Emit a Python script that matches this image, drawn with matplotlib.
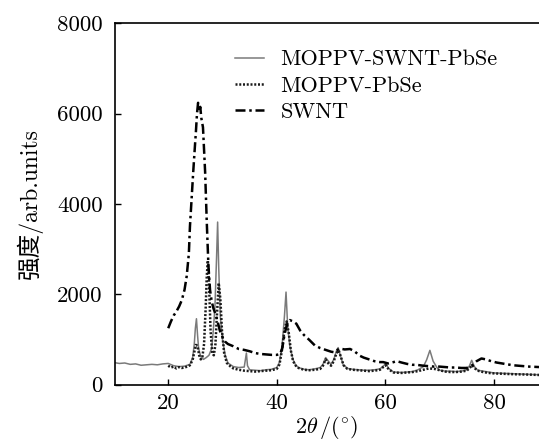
import matplotlib
matplotlib.use("Agg")
import matplotlib.pyplot as plt

# MOPPV-SWNT-PbSe (línea gris continua)
comp_x = [10, 11, 12, 13, 14, 15, 16, 17, 18, 19,
          20, 21, 22, 23, 24, 24.5, 24.8, 25.0, 25.2, 25.4,
          25.6, 26.0, 26.5, 27.0, 27.5, 28.0, 28.3, 28.6, 28.9, 29.1,
          29.3, 29.6, 30.0, 30.5, 31, 32, 33, 34, 34.4, 34.6,
          35, 36, 37, 38, 39, 40, 40.5, 41.0, 41.4, 41.7,
          42.0, 42.4, 43, 43.5, 44, 45, 46, 47, 48, 48.5,
          49, 49.5, 50, 50.5, 51, 51.3, 51.7, 52.2, 53, 54,
          55, 56, 57, 58, 59, 59.7, 60.1, 60.6, 61.5, 63,
          64, 65, 66, 67, 67.6, 68.2, 68.8, 69.5, 70, 71,
          72, 73, 74, 75, 75.5, 75.9, 76.4, 77, 78, 79,
          80, 82, 84, 86, 88.3]
comp_y = [490, 470, 480, 450, 460, 430, 440, 450, 440, 460,
          470, 420, 400, 410, 450, 600, 900, 1250, 1460, 1100,
          800, 620, 560, 600, 650, 800, 1200, 1700, 2800, 3600,
          2600, 1500, 1000, 650, 480, 400, 380, 390, 700, 420,
          330, 320, 310, 330, 340, 380, 500, 900, 1500, 2050,
          1300, 850, 550, 430, 380, 340, 330, 350, 380, 450,
          600, 520, 450, 560, 750, 820, 650, 450, 360, 340,
          330, 320, 320, 330, 350, 420, 470, 360, 280, 270,
          280, 290, 330, 400, 550, 760, 520, 380, 320, 300,
          300, 290, 300, 330, 420, 540, 400, 320, 300, 280,
          260, 250, 240, 230, 220]

# MOPPV-PbSe (línea punteada)
pbse_x = [20, 20.5, 21, 21.5, 22, 22.5, 23, 23.5, 24, 24.5,
          24.8, 25.1, 25.4, 25.7, 26.0, 26.3, 26.6, 26.9, 27.1, 27.3,
          27.5, 27.8, 28.1, 28.4, 28.7, 29.0, 29.3, 29.6, 29.9, 30.3,
          30.8, 31.5, 32, 33, 34, 35, 36, 37, 38, 39,
          40, 40.5, 41, 41.4, 41.8, 42.2, 42.6, 43, 43.5, 44,
          45, 46, 47, 48, 48.5, 49, 49.5, 50, 50.5, 51,
          51.4, 51.8, 52.3, 53, 54, 55, 56, 57, 58, 59,
          59.7, 60.1, 60.6, 61.5, 63, 64, 65, 66, 67, 68,
          69, 70, 71, 72, 73, 74, 75, 75.6, 76, 76.5,
          77, 78, 79, 80, 82, 84, 86, 88.3]
pbse_y = [420, 380, 400, 360, 390, 370, 380, 400, 430, 550,
          720, 880, 860, 650, 560, 620, 900, 1700, 2400, 2750,
          2300, 1200, 700, 650, 900, 1600, 2250, 1900, 1200, 700,
          480, 400, 360, 330, 310, 300, 290, 300, 310, 320,
          350, 450, 800, 1200, 1400, 1150, 750, 520, 420, 370,
          330, 320, 330, 350, 420, 560, 470, 420, 520, 700,
          760, 620, 430, 350, 330, 320, 310, 300, 310, 330,
          400, 430, 340, 270, 260, 270, 280, 300, 330, 360,
          350, 320, 290, 280, 280, 290, 310, 380, 430, 360,
          310, 280, 260, 250, 240, 230, 225, 215]

# SWNT (línea de trazo y punto)
swnt_x = [20, 20.5, 21, 21.5, 22, 22.5, 23, 23.4, 23.8, 24.0,
          24.3, 24.6, 24.9, 25.1, 25.3, 25.5, 25.7, 25.9, 26.1, 26.4,
          26.8, 27.1, 27.4, 27.7, 28.0, 28.3, 28.6, 28.9, 29.2, 29.5,
          30.1, 30.5, 31, 32, 33, 34, 35, 36, 37, 38,
          39, 40, 40.6, 41.0, 41.4, 41.8, 42.1, 42.4, 43.0, 43.6,
          44.3, 45, 46, 47, 48, 49, 50, 50.5, 51, 51.6,
          52.5, 53.5, 54.3, 55.3, 56, 57, 58, 59, 59.6, 60.5,
          61.2, 62.1, 63, 64, 65, 65.7, 67, 68, 69, 70,
          71, 72, 73, 74, 75, 76, 76.8, 77.7, 78.5, 79.5,
          80.5, 81.5, 82.5, 83.5, 84.5, 85.5, 86.5, 87.5, 88.3]
swnt_y = [1250, 1400, 1530, 1620, 1730, 1870, 2100, 2400, 2900, 3500,
          4100, 4700, 5250, 5600, 6000, 6240, 6050, 6150, 5900, 5700,
          4700, 3600, 2650, 2100, 1850, 1700, 1600, 1480, 1350, 1200,
          1030, 950, 900, 850, 790, 770, 740, 700, 680, 670,
          660, 660, 680, 800, 1100, 1300, 1400, 1430, 1400, 1350,
          1200, 1100, 990, 870, 810, 770, 730, 720, 760, 800,
          780, 790, 740, 640, 600, 560, 520, 500, 500, 470,
          490, 520, 490, 460, 440, 440, 420, 410, 400, 400,
          390, 380, 380, 370, 370, 430, 520, 580, 560, 520,
          490, 470, 450, 430, 420, 410, 400, 395, 390]

labels = ["MOPPV-SWNT-PbSe", "MOPPV-PbSe", "SWNT"]
x_ticks = [20, 40, 60, 80]
y_ticks = [0, 2000, 4000, 6000, 8000]

plt.rcParams["font.family"] = ["cmr10", "Noto Sans CJK SC", "DejaVu Sans"]
plt.rcParams["mathtext.fontset"] = "cm"
plt.rcParams["axes.formatter.use_mathtext"] = True

fig = plt.figure(figsize=(5.39, 4.44), dpi=100)
ax = fig.add_axes([0.2134, 0.1336, 0.7866, 0.8139])

ax.plot(comp_x, comp_y, color="#7a7a7a", lw=1.1, label=labels[0])
ax.plot(pbse_x, pbse_y, color="#1a1a1a", lw=1.8, linestyle=(0, (0.8, 0.7)),
        label=labels[1])
ax.plot(swnt_x, swnt_y, color="black", lw=1.8,
        linestyle=(0, (4, 1.5, 1, 1.5)), label=labels[2])

ax.set_xlim(10.2, 88.3)
ax.set_ylim(0, 8000)
ax.set_xticks(x_ticks)
ax.set_yticks(y_ticks)
ax.set_xticklabels([str(v) for v in x_ticks])
ax.set_yticklabels([str(v) for v in y_ticks])
ax.tick_params(direction="in", length=4, width=1, labelsize=16.5)
ax.tick_params(axis="y", pad=9)
ax.tick_params(axis="x", pad=6)
ax.spines["right"].set_visible(False)
for s in ("left", "bottom", "top"):
    ax.spines[s].set_linewidth(1.2)

ax.set_xlabel(r"$2\theta\,/(^{\circ})$", fontsize=16, labelpad=1)
ax.set_ylabel("强度/arb.units", fontsize=17, labelpad=10)

ax.legend(loc="upper left", bbox_to_anchor=(0.436, 0.888),
          bbox_transform=fig.transFigure, frameon=False, fontsize=16,
          handlelength=1.3, handletextpad=0.75, labelspacing=0.3,
          borderpad=0, borderaxespad=0)

plt.savefig("out.png", dpi=100)
plt.close()
